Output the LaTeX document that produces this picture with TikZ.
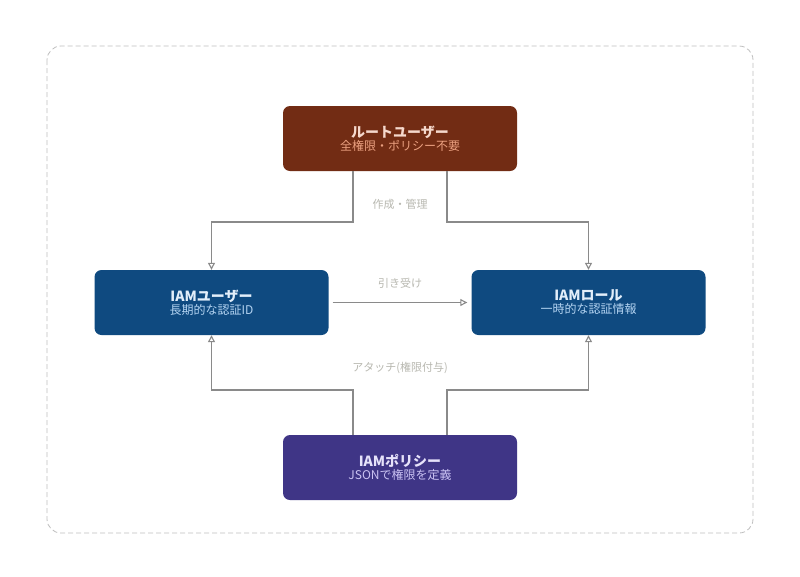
\documentclass[tikz,border=0pt]{standalone}
\usepackage{fontspec}
\setmainfont{Noto Sans CJK JP}
\usetikzlibrary{arrows.meta}
\definecolor{rootc}{HTML}{722C14}
\definecolor{bluec}{HTML}{0F4A80}
\definecolor{purc}{HTML}{3F3586}
\definecolor{edgec}{HTML}{8A8A8A}
\definecolor{labc}{HTML}{B8B8B0}
\begin{document}
\begin{tikzpicture}[x=1pt,y=-1pt,
  box/.style={rounded corners=7pt,minimum width=234pt,minimum height=65pt,inner sep=0pt,align=center},
  edge/.style={draw=edgec,line width=1.1pt,-{Stealth[length=7pt,width=7pt,inset=0pt,open]}},
  edgeline/.style={draw=edgec,line width=1.1pt},
  lab/.style={text=labc,font=\fontsize{11}{13}\selectfont}]
\useasboundingbox (0,0) rectangle (800,576);
\fill[white] (0,0) rectangle (800,576);
\draw[dashed,draw=black!25,line width=0.8pt,rounded corners=14pt,dash pattern=on 5pt off 3pt] (47,46) rectangle (753,533);
\node[box,fill=rootc] (root) at (400,138.5) {\fontsize{14}{18}\selectfont\bfseries\color[HTML]{F5D8CC}ルートユーザー\\[1pt]\fontsize{12}{16}\selectfont\mdseries\color[HTML]{EBA080}全権限・ポリシー不要};
\node[box,fill=bluec] (user) at (211.5,302.5) {\fontsize{14}{18}\selectfont\bfseries\color[HTML]{E2EEFA}IAMユーザー\\[1pt]\fontsize{12}{16}\selectfont\mdseries\color[HTML]{B4D4F2}長期的な認証ID};
\node[box,fill=bluec] (role) at (588.5,302.5) {\fontsize{14}{18}\selectfont\bfseries\color[HTML]{E2EEFA}IAMロール\\[1pt]\fontsize{12}{16}\selectfont\mdseries\color[HTML]{B4D4F2}一時的な認証情報};
\node[box,fill=purc] (pol) at (400,467.5) {\fontsize{14}{18}\selectfont\bfseries\color[HTML]{E6E2FA}IAMポリシー\\[1pt]\fontsize{12}{16}\selectfont\mdseries\color[HTML]{CAC2F2}JSONで権限を定義};
\coordinate (r1) at (353,222);
\coordinate (r2) at (447,222);
\coordinate (p1) at (353,390);
\coordinate (p2) at (447,390);
\draw[edge] (root.south -| r1) |- (r1) -| (user.north);
\draw[edge] (root.south -| r2) |- (r2) -| (role.north);
\draw[edge] (pol.north -| p1) |- (p1) -| (user.south);
\draw[edge] (pol.north -| p2) |- (p2) -| (role.south);
\draw[edge] (user.east) ++(4,0) coordinate (ue) (ue) -- ([xshift=-4pt]role.west);
\node[lab] (l1) at (400,204) {作成・管理};
\node[lab] (l2) at (400,283) {引き受け};
\node[lab] (l3) at (400,368) {アタッチ(権限付与)};
\end{tikzpicture}
\end{document}
